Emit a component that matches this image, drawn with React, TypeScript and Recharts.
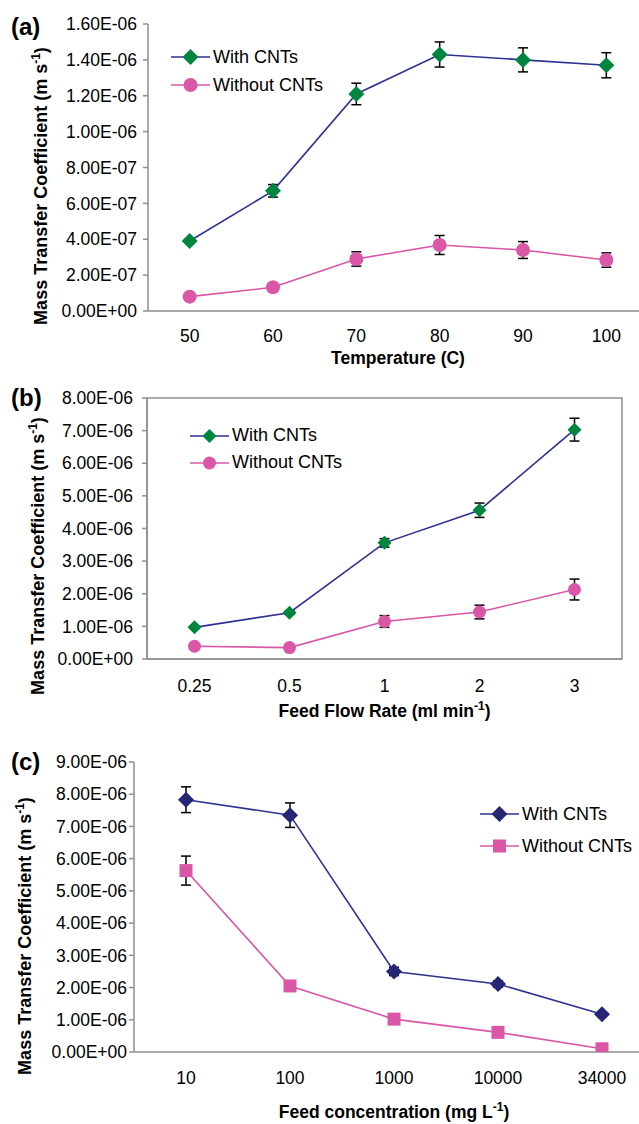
import React from 'react';
import { LineChart, Line, XAxis, YAxis, ErrorBar, ReferenceArea, Legend } from 'recharts';

const FONT = '"Liberation Sans", Arial, Helvetica, sans-serif';
const GREY = '#8f8f8f';
const NAVY = '#2e3192';
const GREEN = '#00853f';
const PINK = '#d957a6';
const DARK_NAVY = '#262675';

// (a) temperature
const tempLabels = ['50', '60', '70', '80', '90', '100'];
const tempWith = [3.9e-7, 6.7e-7, 1.21e-6, 1.43e-6, 1.4e-6, 1.37e-6];
const tempWithErr = [1e-8, 3.5e-8, 6e-8, 7e-8, 6.7e-8, 7e-8];
const tempWithout = [8e-8, 1.32e-7, 2.9e-7, 3.68e-7, 3.4e-7, 2.84e-7];
const tempWithoutErr = [5e-9, 1e-8, 4e-8, 5.3e-8, 4.7e-8, 4e-8];
const tempTicks = [0, 2e-7, 4e-7, 6e-7, 8e-7, 1e-6, 1.2e-6, 1.4e-6, 1.6e-6];

// (b) feed flow rate
const flowLabels = ['0.25', '0.5', '1', '2', '3'];
const flowWith = [0.97e-6, 1.42e-6, 3.56e-6, 4.56e-6, 7.03e-6];
const flowWithErr = [0.03e-6, 0.05e-6, 0.13e-6, 0.22e-6, 0.35e-6];
const flowWithout = [0.39e-6, 0.35e-6, 1.15e-6, 1.44e-6, 2.13e-6];
const flowWithoutErr = [0.03e-6, 0.03e-6, 0.18e-6, 0.21e-6, 0.32e-6];
const flowTicks = [0, 1e-6, 2e-6, 3e-6, 4e-6, 5e-6, 6e-6, 7e-6, 8e-6];

// (c) feed concentration
const concLabels = ['10', '100', '1000', '10000', '34000'];
const concWith = [7.83e-6, 7.35e-6, 2.5e-6, 2.11e-6, 1.17e-6];
const concWithErr = [0.4e-6, 0.38e-6, 0.13e-6, 0.1e-6, 0.05e-6];
const concWithout = [5.63e-6, 2.05e-6, 1.02e-6, 0.61e-6, 0.1e-6];
const concWithoutErr = [0.45e-6, 0.05e-6, 0.05e-6, 0.05e-6, 0.03e-6];
const concTicks = [0, 1e-6, 2e-6, 3e-6, 4e-6, 5e-6, 6e-6, 7e-6, 8e-6, 9e-6];

const buildRows = (labels: string[], w: number[], we: number[], wo: number[], woe: number[]) =>
  labels.map((label, i) => ({ idx: i, label, with: w[i], withErr: we[i], without: wo[i], withoutErr: woe[i] }));

// Excel style 1.60E-06
const sci = (v: number) => {
  if (v === 0) return '0.00E+00';
  const [m, e] = v.toExponential(2).split('e');
  const n = Number(e);
  return `${m}E${n < 0 ? '-' : '+'}${String(Math.abs(n)).padStart(2, '0')}`;
};

type Shape = 'diamond' | 'circle' | 'square';

const Marker = ({ shape, x, y, size, fill }: { shape: Shape; x: number; y: number; size: number; fill: string }) => {
  if (shape === 'circle') return <circle cx={x} cy={y} r={size} fill={fill} />;
  if (shape === 'square') return <rect x={x - size} y={y - size} width={size * 2} height={size * 2} fill={fill} />;
  return <path d={`M${x},${y - size}L${x + size},${y}L${x},${y + size}L${x - size},${y}Z`} fill={fill} />;
};

interface SeriesStyle {
  name: string;
  key: string;
  errKey: string;
  line: string;
  fill: string;
  shape: Shape;
  size: number;
}

interface PanelProps {
  top: number;
  width: number;
  height: number;
  margin: { top: number; right: number; left: number; bottom: number };
  yWidth: number;
  yTickMargin: number;
  yMax: number;
  yTicks: number[];
  labels: string[];
  rows: any[];
  labHeight: number;
  labTickMargin: number;
  xTitle: string[];
  xTitleDy: number;
  yTitleX: number;
  yTitleY: number;
  tag: string;
  tagY: number;
  series: SeriesStyle[];
  legend: { left: number; top: number; row: number };
  box?: boolean;
}

const boundTicks = (n: number) => Array.from({ length: n + 1 }, (_, i) => i - 0.5);
const centerTicks = (n: number) => Array.from({ length: n }, (_, i) => i);

const TICK_FS = 17.5;

const Panel = (p: PanelProps) => {
  const n = p.labels.length;
  const tickFont = { fontSize: TICK_FS, fill: '#000', fontFamily: FONT };
  const plotCx = p.yWidth + (p.width - p.yWidth - p.margin.right) / 2;

  const xTitle = (props: any) => {
    const vb = props?.viewBox || {};
    const cx = vb.width ? vb.x + vb.width / 2 : plotCx;
    const y = (vb.y ?? 0) + p.xTitleDy;
    return (
      <text x={cx} y={y} textAnchor="middle" fontFamily={FONT} fontWeight="bold" fontSize={17.5} fill="#000">
        <tspan>{p.xTitle[0]}</tspan>
        {p.xTitle[1] && (
          <tspan dy={-7} fontSize={12}>
            {p.xTitle[1]}
          </tspan>
        )}
        {p.xTitle[2] && <tspan dy={7}>{p.xTitle[2]}</tspan>}
      </text>
    );
  };

  const yTitle = () => (
    <g>
      <text x={11} y={p.tagY} fontFamily={FONT} fontWeight="bold" fontSize={24} fill="#000">
        {p.tag}
      </text>
      <text
        x={p.yTitleX}
        y={p.yTitleY}
        transform={`rotate(-90, ${p.yTitleX}, ${p.yTitleY})`}
        textAnchor="middle"
        fontFamily={FONT}
        fontWeight="bold"
        fontSize={18}
        fill="#000"
      >
        <tspan>Mass Transfer Coefficient (m s</tspan>
        <tspan dy={-7} fontSize={12}>
          -1
        </tspan>
        <tspan dy={7}>)</tspan>
      </text>
    </g>
  );

  const legendContent = () => (
    <div style={{ fontFamily: FONT, fontSize: 18, color: '#000' }}>
      {p.series.map((s) => (
        <div key={s.key} style={{ display: 'flex', alignItems: 'center', height: p.legend.row, whiteSpace: 'nowrap' }}>
          <svg width={42} height={20} style={{ display: 'block' }}>
            <line x1={0} x2={39} y1={10} y2={10} stroke={s.line} strokeWidth={1.6} />
            <Marker shape={s.shape} x={19.5} y={10} size={s.size} fill={s.fill} />
          </svg>
          <span>{s.name}</span>
        </div>
      ))}
    </div>
  );

  return (
    <div style={{ position: 'absolute', left: 0, top: p.top }}>
      <LineChart width={p.width} height={p.height} data={p.rows} margin={p.margin}>
        <XAxis
          xAxisId="bound"
          type="number"
          dataKey="idx"
          domain={[-0.5, n - 0.5]}
          ticks={boundTicks(n)}
          interval={0}
          tick={false}
          tickSize={6}
          height={8}
          axisLine={{ stroke: GREY, strokeWidth: 1.5 }}
          tickLine={{ stroke: GREY, strokeWidth: 1.5 }}
          allowDataOverflow
        />
        <XAxis
          xAxisId="lab"
          type="number"
          dataKey="idx"
          domain={[-0.5, n - 0.5]}
          ticks={centerTicks(n)}
          interval={0}
          tickFormatter={(v: number) => p.labels[v] ?? ''}
          axisLine={false}
          tickLine={false}
          tickSize={0}
          tickMargin={p.labTickMargin}
          height={p.labHeight}
          tick={tickFont}
          label={xTitle}
          allowDataOverflow
        />
        <YAxis
          type="number"
          domain={[0, p.yMax]}
          ticks={p.yTicks}
          interval={0}
          tickFormatter={sci}
          width={p.yWidth}
          tickSize={5}
          tickMargin={p.yTickMargin}
          tick={tickFont}
          axisLine={{ stroke: GREY, strokeWidth: 1.5 }}
          tickLine={{ stroke: GREY, strokeWidth: 1.5 }}
          label={yTitle}
          allowDataOverflow
        />
        {p.box && (
          <ReferenceArea
            xAxisId="lab"
            x1={-0.5}
            x2={n - 0.5}
            y1={0}
            y2={p.yMax}
            fill="none"
            fillOpacity={0}
            stroke={GREY}
            strokeWidth={1.5}
            ifOverflow="visible"
          />
        )}
        <Legend
          layout="vertical"
          align="center"
          verticalAlign="middle"
          content={legendContent}
          wrapperStyle={{ left: p.legend.left, top: p.legend.top, width: 200 }}
        />
        {p.series.map((s) => (
          <Line
            key={s.key}
            xAxisId="lab"
            type="linear"
            dataKey={s.key}
            name={s.name}
            stroke={s.line}
            strokeWidth={1.6}
            isAnimationActive={false}
            activeDot={false}
            dot={(d: any) => (
              <Marker key={`${s.key}-${d.index}`} shape={s.shape} x={d.cx} y={d.cy} size={s.size} fill={s.fill} />
            )}
          >
            <ErrorBar dataKey={s.errKey} width={5} stroke="#000" strokeWidth={1.5} direction="y" isAnimationActive={false} />
          </Line>
        ))}
      </LineChart>
    </div>
  );
};

const seriesAB = (d: number, r: number): SeriesStyle[] => [
  { name: 'With CNTs', key: 'with', errKey: 'withErr', line: NAVY, fill: GREEN, shape: 'diamond', size: d },
  { name: 'Without CNTs', key: 'without', errKey: 'withoutErr', line: PINK, fill: PINK, shape: 'circle', size: r },
];

const seriesC: SeriesStyle[] = [
  { name: 'With CNTs', key: 'with', errKey: 'withErr', line: NAVY, fill: DARK_NAVY, shape: 'diamond', size: 8 },
  { name: 'Without CNTs', key: 'without', errKey: 'withoutErr', line: PINK, fill: PINK, shape: 'square', size: 6.5 },
];

export default function App() {
  return (
    <div style={{ position: 'absolute', left: 0, top: 0, width: 639, height: 1124, overflow: 'hidden', background: '#fff' }}>
      <Panel
        top={0}
        width={660}
        height={370}
        margin={{ top: 24, right: 12, left: 0, bottom: 5 }}
        yWidth={148}
        yTickMargin={6}
        yMax={1.6e-6}
        yTicks={tempTicks}
        labels={tempLabels}
        rows={buildRows(tempLabels, tempWith, tempWithErr, tempWithout, tempWithoutErr)}
        labHeight={46}
        labTickMargin={11}
        xTitle={['Temperature (C)']}
        xTitleDy={45}
        yTitleX={47}
        yTitleY={186}
        tag="(a)"
        tagY={35}
        series={seriesAB(8, 7)}
        legend={{ left: 171, top: 43, row: 28 }}
      />
      <Panel
        top={370}
        width={639}
        height={365}
        margin={{ top: 28, right: 17, left: 0, bottom: 5 }}
        yWidth={147}
        yTickMargin={9}
        yMax={8e-6}
        yTicks={flowTicks}
        labels={flowLabels}
        rows={buildRows(flowLabels, flowWith, flowWithErr, flowWithout, flowWithoutErr)}
        labHeight={63}
        labTickMargin={13}
        xTitle={['Feed Flow Rate (ml min', '-1', ')']}
        xTitleDy={50}
        yTitleX={44}
        yTitleY={186}
        tag="(b)"
        tagY={36}
        box
        series={seriesAB(7, 6.5)}
        legend={{ left: 190, top: 52, row: 27 }}
      />
      <Panel
        top={735}
        width={660}
        height={389}
        margin={{ top: 27, right: 6, left: 0, bottom: 5 }}
        yWidth={134}
        yTickMargin={2}
        yMax={9e-6}
        yTicks={concTicks}
        labels={concLabels}
        rows={buildRows(concLabels, concWith, concWithErr, concWithout, concWithoutErr)}
        labHeight={59}
        labTickMargin={12}
        xTitle={['Feed concentration (mg L', '-1', ')']}
        xTitleDy={57.5}
        yTitleX={31}
        yTitleY={201}
        tag="(c)"
        tagY={35}
        series={seriesC}
        legend={{ left: 480, top: 63, row: 32 }}
      />
    </div>
  );
}
